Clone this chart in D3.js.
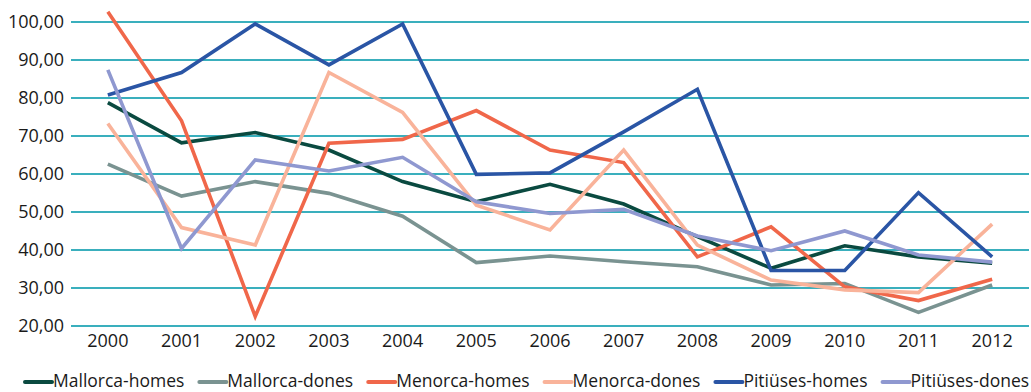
<!DOCTYPE html>
<html>
<head>
<meta charset="utf-8">
<script src="https://cdn.jsdelivr.net/npm/d3@7"></script>
<style>
  html, body { margin: 0; padding: 0; background: #fff; }
  svg { display: block; font-family: "Open Sans", "Noto Sans", sans-serif; }
</style>
</head>
<body>
<svg id="chart" width="1031" height="392"></svg>
<script>
const years = ["2000","2001","2002","2003","2004","2005","2006","2007","2008","2009","2010","2011","2012"];
const yTicks = [20, 30, 40, 50, 60, 70, 80, 90, 100];

const mallorcaHomes  = [78.8, 68.2, 70.9, 66.3, 58.0, 52.7, 57.3, 52.1, 43.5, 35.2, 41.1, 38.2, 36.5];
const mallorcaDones  = [62.6, 54.2, 58.0, 54.9, 48.9, 36.7, 38.4, 36.9, 35.6, 30.8, 31.2, 23.6, 30.8];
const menorcaHomes   = [102.7, 74.0, 22.5, 68.1, 69.1, 76.7, 66.3, 63.0, 38.2, 46.1, 30.3, 26.7, 32.3];
const menorcaDones   = [73.3, 45.9, 41.3, 86.7, 76.2, 51.8, 45.3, 66.3, 41.3, 32.1, 29.5, 28.8, 46.8];
const pitiusesHomes  = [80.8, 86.7, 99.5, 88.7, 99.5, 59.9, 60.3, 71.1, 82.3, 34.6, 34.6, 55.1, 38.2];
const pitiusesDones  = [87.4, 40.4, 63.7, 60.8, 64.4, 52.7, 49.6, 50.7, 43.7, 39.8, 45.0, 38.7, 36.8];

const seriesNames = ["Mallorca-homes","Mallorca-dones","Menorca-homes","Menorca-dones","Pitiüses-homes","Pitiüses-dones"];
const seriesValues = [mallorcaHomes, mallorcaDones, menorcaHomes, menorcaDones, pitiusesHomes, pitiusesDones];
const seriesColors = ["#0a4a40","#7a9391","#f0674a","#f9b39a","#2a55a5","#8f98d0"];

const svg = d3.select("#chart");
const plot = { left: 71, right: 1029, top: 22, bottom: 326 };

const x = d3.scalePoint().domain(years).range([plot.left, plot.right]).padding(0.5);
const y = d3.scaleLinear().domain([20, 100]).range([plot.bottom, plot.top]);

// horizontal gridlines
svg.append("g").selectAll("line").data(yTicks).join("line")
  .attr("x1", plot.left).attr("x2", plot.right)
  .attr("y1", d => y(d)).attr("y2", d => y(d))
  .attr("stroke", "#3aafbd").attr("stroke-width", 2);

// y axis labels
const fmt = d => d3.format(".2f")(d).replace(".", ",");
svg.append("g").selectAll("text").data(yTicks).join("text")
  .attr("x", 64).attr("y", d => y(d)).attr("dy", "0.35em")
  .attr("text-anchor", "end").attr("font-size", 18).attr("fill", "#1a1a1a")
  .text(fmt);

// x axis labels
svg.append("g").selectAll("text").data(years).join("text")
  .attr("x", d => x(d)).attr("y", 347)
  .attr("text-anchor", "middle").attr("font-size", 18).attr("fill", "#1a1a1a")
  .text(d => d);

// series lines
const line = d3.line().x((d, i) => x(years[i])).y(d => y(d));
svg.append("g").selectAll("path").data(seriesValues).join("path")
  .attr("d", line)
  .attr("fill", "none")
  .attr("stroke", (d, i) => seriesColors[i])
  .attr("stroke-width", 3.6)
  .attr("stroke-linejoin", "miter");

// legend
const legend = svg.append("g");
let lx = 25;
seriesNames.forEach((name, i) => {
  legend.append("line")
    .attr("x1", lx).attr("x2", lx + 27)
    .attr("y1", 382).attr("y2", 382)
    .attr("stroke", seriesColors[i]).attr("stroke-width", 4).attr("stroke-linecap", "round");
  const t = legend.append("text")
    .attr("x", lx + 28).attr("y", 387)
    .attr("font-size", 17.5).attr("fill", "#1a1a1a")
    .text(name);
  lx += 28 + t.node().getComputedTextLength() + 15;
});
</script>
</body>
</html>
